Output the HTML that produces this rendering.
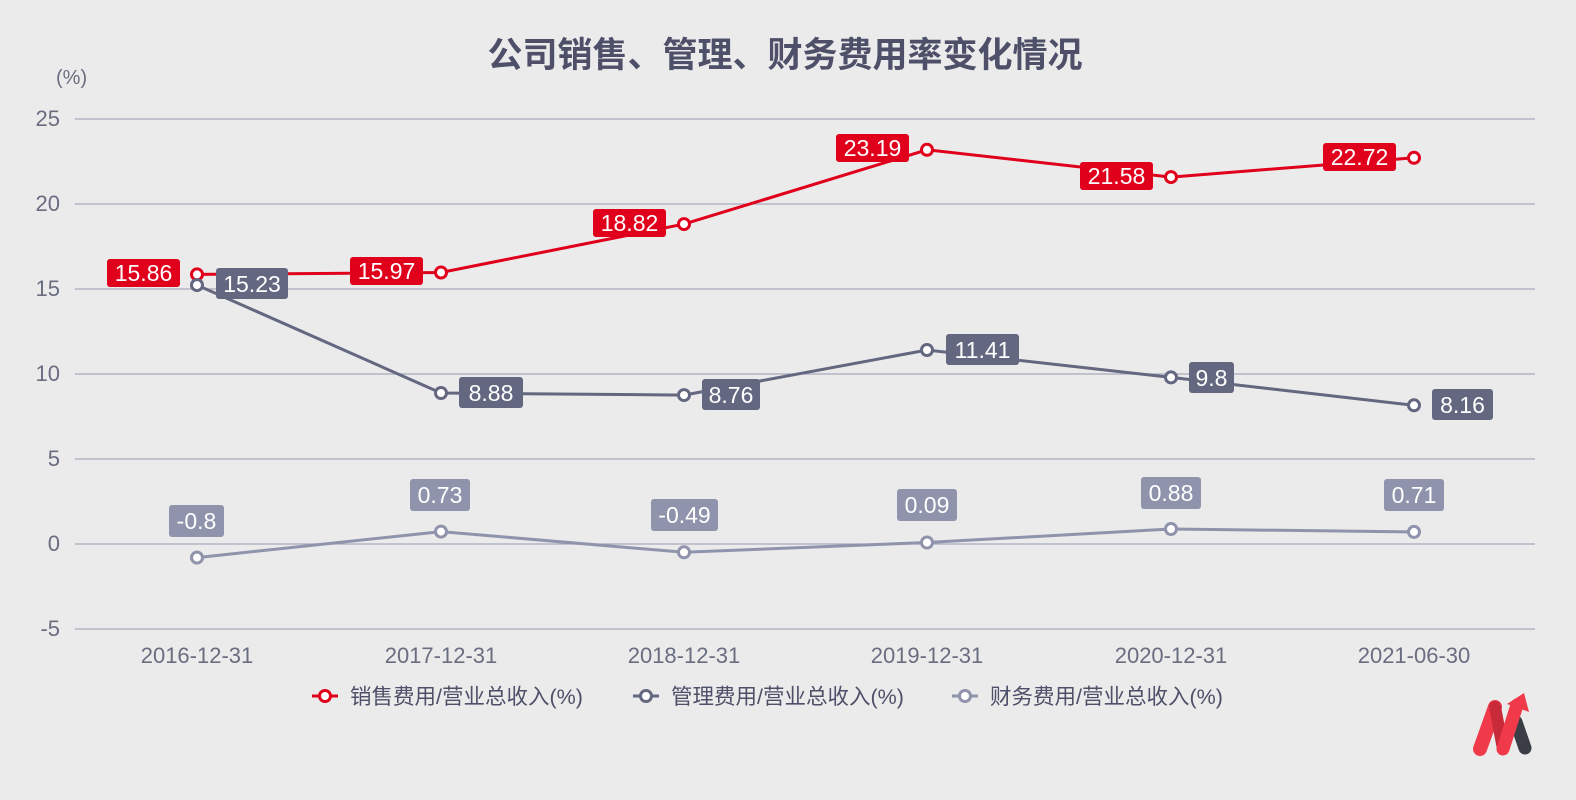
<!DOCTYPE html>
<html><head><meta charset="utf-8"><style>
html,body{margin:0;padding:0;background:#ebebeb;}
svg{display:block;font-family:"Liberation Sans","Noto Sans CJK SC",sans-serif;}
</style></head><body>
<svg width="1576" height="800" viewBox="0 0 1576 800">
<rect width="1576" height="800" fill="#ebebeb"/>
<text x="785" y="67" text-anchor="middle" font-size="35" font-weight="bold" fill="#4d5068">公司销售、管理、财务费用率变化情况</text>
<text x="56" y="84" font-size="20" fill="#6a6d80">(%)</text>
<g stroke="#a6a9bb" stroke-width="1.2">
<line x1="75" x2="1535" y1="119" y2="119"/><line x1="75" x2="1535" y1="204" y2="204"/>
<line x1="75" x2="1535" y1="289" y2="289"/><line x1="75" x2="1535" y1="374" y2="374"/>
<line x1="75" x2="1535" y1="459" y2="459"/><line x1="75" x2="1535" y1="544" y2="544"/>
<line x1="75" x2="1535" y1="629" y2="629"/>
</g>
<g font-size="22" fill="#6a6d80" text-anchor="end">
<text x="60" y="126">25</text><text x="60" y="211">20</text><text x="60" y="296">15</text>
<text x="60" y="381">10</text><text x="60" y="466">5</text><text x="60" y="551">0</text><text x="60" y="636">-5</text>
</g>
<g font-size="22" fill="#6a6d80" text-anchor="middle">
<text x="197" y="663">2016-12-31</text><text x="441" y="663">2017-12-31</text><text x="684" y="663">2018-12-31</text>
<text x="927" y="663">2019-12-31</text><text x="1171" y="663">2020-12-31</text><text x="1414" y="663">2021-06-30</text>
</g>
<polyline fill="none" stroke="#8f93ab" stroke-width="3" points="197,557.6 441,531.6 684,552.3 927,542.5 1171,529 1414,531.9"/>
<polyline fill="none" stroke="#636780" stroke-width="3" points="197,285.1 441,393 684,395.1 927,350 1171,377.4 1414,405.3"/>
<polyline fill="none" stroke="#e0001b" stroke-width="3" points="197,274.4 441,272.5 684,224.1 927,149.8 1171,177.1 1414,157.8"/>
<g fill="#fff" stroke-width="3">
<g stroke="#8f93ab"><circle cx="197" cy="557.6" r="5.5"/><circle cx="441" cy="531.6" r="5.5"/><circle cx="684" cy="552.3" r="5.5"/><circle cx="927" cy="542.5" r="5.5"/><circle cx="1171" cy="529" r="5.5"/><circle cx="1414" cy="531.9" r="5.5"/></g>
<g stroke="#e0001b"><circle cx="197" cy="274.4" r="5.5"/><circle cx="441" cy="272.5" r="5.5"/><circle cx="684" cy="224.1" r="5.5"/><circle cx="927" cy="149.8" r="5.5"/><circle cx="1171" cy="177.1" r="5.5"/><circle cx="1414" cy="157.8" r="5.5"/></g>
<g stroke="#636780"><circle cx="197" cy="285.1" r="5.5"/><circle cx="441" cy="393" r="5.5"/><circle cx="684" cy="395.1" r="5.5"/><circle cx="927" cy="350" r="5.5"/><circle cx="1171" cy="377.4" r="5.5"/><circle cx="1414" cy="405.3" r="5.5"/></g>
</g>
<g font-size="23" fill="#fff" text-anchor="middle">
<rect x="107" y="259" width="73" height="28" rx="3" fill="#e0001b"/><text x="143.5" y="281">15.86</text>
<rect x="350" y="257" width="73" height="28" rx="3" fill="#e0001b"/><text x="386.5" y="279">15.97</text>
<rect x="593" y="209" width="73" height="28" rx="3" fill="#e0001b"/><text x="629.5" y="231">18.82</text>
<rect x="836" y="134" width="73" height="28" rx="3" fill="#e0001b"/><text x="872.5" y="156">23.19</text>
<rect x="1080" y="162" width="73" height="28" rx="3" fill="#e0001b"/><text x="1116.5" y="184">21.58</text>
<rect x="1323" y="143" width="73" height="28" rx="3" fill="#e0001b"/><text x="1359.5" y="165">22.72</text>
<rect x="216" y="268" width="72" height="31" rx="3" fill="#636780"/><text x="252" y="292">15.23</text>
<rect x="459" y="377" width="64" height="31" rx="3" fill="#636780"/><text x="491" y="401">8.88</text>
<rect x="702" y="379" width="58" height="31" rx="3" fill="#636780"/><text x="731" y="403">8.76</text>
<rect x="946" y="334" width="73" height="31" rx="3" fill="#636780"/><text x="982.5" y="358">11.41</text>
<rect x="1189" y="362" width="45" height="31" rx="3" fill="#636780"/><text x="1211.5" y="386">9.8</text>
<rect x="1432" y="389" width="61" height="31" rx="3" fill="#636780"/><text x="1462.5" y="413">8.16</text>
<rect x="169" y="505" width="55" height="32" rx="3" fill="#8f93ab"/><text x="196.5" y="529">-0.8</text>
<rect x="410" y="479" width="60" height="32" rx="3" fill="#8f93ab"/><text x="440" y="503">0.73</text>
<rect x="651" y="499" width="67" height="32" rx="3" fill="#8f93ab"/><text x="684.5" y="523">-0.49</text>
<rect x="897" y="489" width="60" height="32" rx="3" fill="#8f93ab"/><text x="927" y="513">0.09</text>
<rect x="1141" y="477" width="60" height="32" rx="3" fill="#8f93ab"/><text x="1171" y="501">0.88</text>
<rect x="1384" y="479" width="60" height="32" rx="3" fill="#8f93ab"/><text x="1414" y="503">0.71</text>
</g>
<g stroke-width="3" fill="#fff">
<line x1="312" x2="338" y1="696" y2="696" stroke="#e0001b"/><circle cx="325" cy="696" r="5.5" stroke="#e0001b"/>
<line x1="633" x2="659" y1="696" y2="696" stroke="#636780"/><circle cx="646" cy="696" r="5.5" stroke="#636780"/>
<line x1="952" x2="978" y1="696" y2="696" stroke="#8f93ab"/><circle cx="965" cy="696" r="5.5" stroke="#8f93ab"/>
</g>
<g font-size="21.5" fill="#4d5068">
<text x="350" y="704">销售费用/营业总收入(%)</text>
<text x="671" y="704">管理费用/营业总收入(%)</text>
<text x="990" y="704">财务费用/营业总收入(%)</text>
</g>
<g stroke-linecap="round">
<line x1="1516" y1="722" x2="1525" y2="748" stroke="#3a3c46" stroke-width="13"/>
<line x1="1480" y1="749" x2="1495" y2="707" stroke="#f03a4a" stroke-width="14"/>
<line x1="1495" y1="707" x2="1503" y2="749" stroke="#c92a3a" stroke-width="12"/>
<line x1="1503" y1="749" x2="1517" y2="705" stroke="#f03a4a" stroke-width="13"/>
<polygon points="1507,704 1524,693 1529,712" fill="#f03a4a"/>
</g>
</svg>
</body></html>
